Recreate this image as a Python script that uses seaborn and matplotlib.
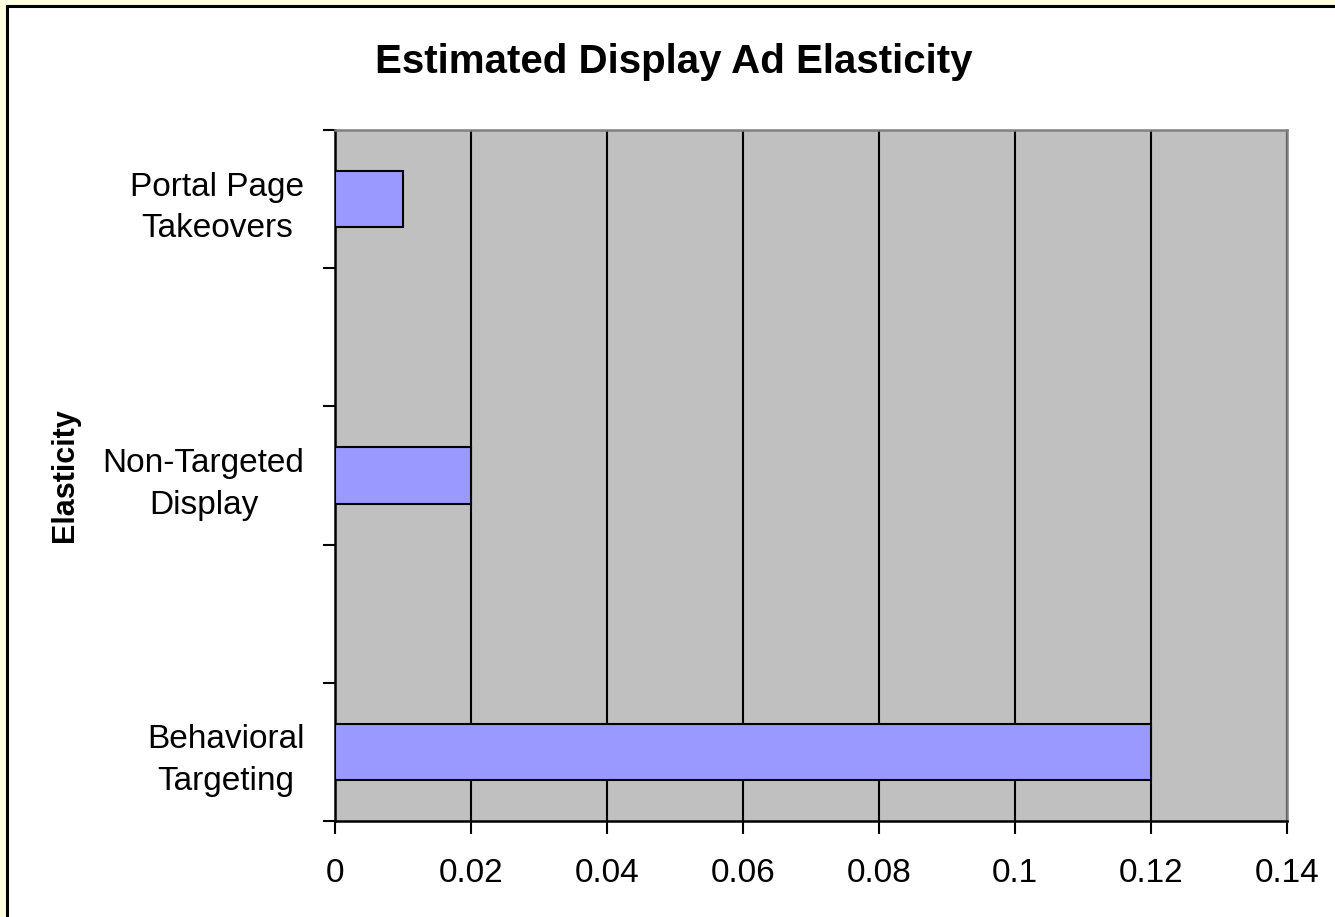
import matplotlib
matplotlib.use("Agg")
import matplotlib.pyplot as plt
from matplotlib.patches import Rectangle
from matplotlib.ticker import FixedLocator
import pandas as pd
import seaborn as sns

# Chart data
categories = ["Portal Page\nTakeovers", "Non-Targeted\nDisplay", "Behavioral\nTargeting"]
elasticity = [0.01, 0.02, 0.12]
x_ticks = [0, 0.02, 0.04, 0.06, 0.08, 0.1, 0.12, 0.14]
x_tick_labels = ["0", "0.02", "0.04", "0.06", "0.08", "0.1", "0.12", "0.14"]
title = "Estimated Display Ad Elasticity"
y_label = "Elasticity"

# Category slots: blank spacer slots between the bars
slot_order = [categories[0], "", categories[1], " ", categories[2]]

df = pd.DataFrame({"category": categories, "elasticity": elasticity})

sns.set_theme(style="white")
plt.rcParams["font.family"] = ["Liberation Sans", "DejaVu Sans"]
plt.rcParams["text.color"] = "black"
plt.rcParams["xtick.color"] = "black"
plt.rcParams["ytick.color"] = "black"
plt.rcParams["xtick.labelcolor"] = "black"
plt.rcParams["ytick.labelcolor"] = "black"

W, H, DPI = 1335, 917, 100
fig = plt.figure(figsize=(W / DPI, H / DPI), dpi=DPI)
fig.patch.set_facecolor("#FFFFE0")

# White chart sheet with a black frame (left and top edges visible)
sheet = Rectangle((7 / W, -0.05), 1.1, (H - 6) / H + 0.05,
                  transform=fig.transFigure, facecolor="white",
                  edgecolor="black", linewidth=2.2, zorder=-10)
fig.patches.append(sheet)

ax = fig.add_axes([335 / W, 1 - 821 / H, (1287 - 335) / W, (821 - 130) / H])
ax.set_zorder(5)
ax.set_facecolor("#C0C0C0")

sns.barplot(data=df, x="elasticity", y="category", order=slot_order,
            orient="h", color="#9999FF", saturation=1, width=0.41,
            edgecolor="black", linewidth=1.5, ax=ax, zorder=3)

ax.set_xlim(0, 0.14)
ax.set_ylim(4.5, -0.5)
ax.set_xticks(x_ticks)
ax.set_xticklabels(x_tick_labels)
ax.xaxis.grid(True, color="black", linewidth=1.5, zorder=1)
ax.yaxis.grid(False)
ax.set_axisbelow(True)

# Category labels without tick marks; boundary ticks as minor ticks
ax.tick_params(axis="y", which="major", length=0, pad=22, labelsize=24)
ax.yaxis.set_minor_locator(FixedLocator([-0.5, 0.5, 1.5, 2.5, 3.5, 4.5]))
ax.tick_params(axis="y", which="minor", left=True, length=9, width=1.5, color="black")
for lbl in ax.get_yticklabels():
    lbl.set_multialignment("center")
    lbl.set_linespacing(1.45)
ax.tick_params(axis="x", which="major", bottom=True, length=9, width=1.5,
               color="black", pad=18, labelsize=24)

for side in ("left", "bottom"):
    ax.spines[side].set_color("black")
    ax.spines[side].set_linewidth(1.8)
for side in ("top", "right"):
    ax.spines[side].set_color("#808080")
    ax.spines[side].set_linewidth(1.8)

ax.set_xlabel("")
ax.set_ylabel("")
fig.text(65 / W, 1 - 475 / H, y_label, rotation=90, ha="center", va="center",
         fontsize=22, fontweight="bold", color="black")
fig.text(674 / W, 1 - 62 / H, title, ha="center", va="center",
         fontsize=29, fontweight="bold", color="black")

fig.savefig("out.png", dpi=DPI, facecolor=fig.get_facecolor())
